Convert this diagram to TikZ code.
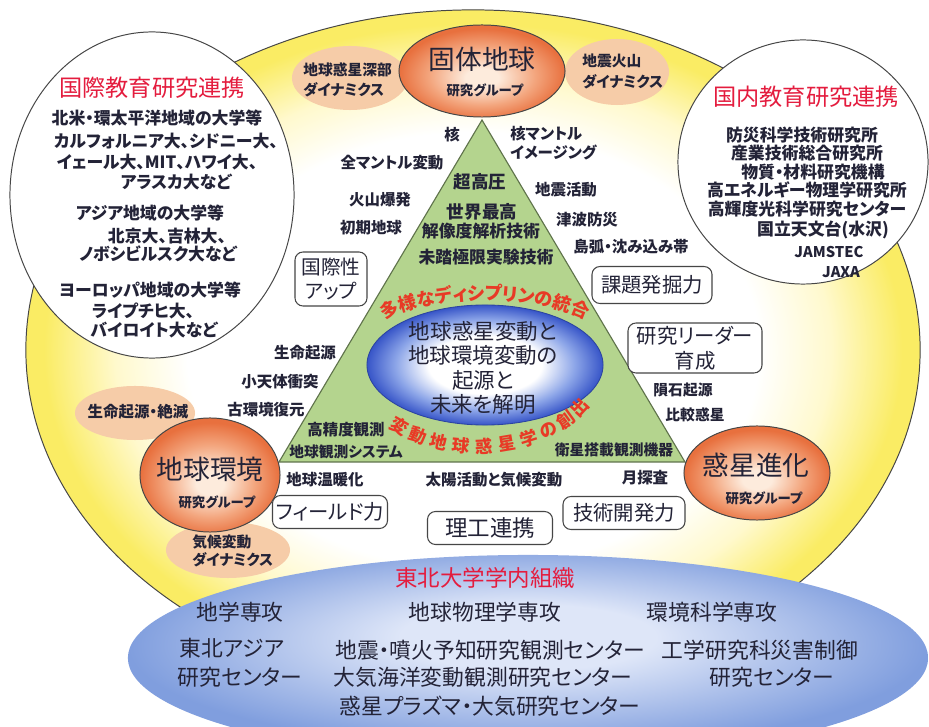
\documentclass[tikz,border=0pt]{standalone}
\usepackage{fontspec}
\setmainfont{Noto Sans CJK JP}[RawFeature=+palt]
\usetikzlibrary{shapes.geometric,decorations.text}
\definecolor{txt}{RGB}{35,35,55}
\definecolor{rimY}{RGB}{250,236,100}
\definecolor{paleY}{RGB}{255,249,205}
\definecolor{paleO}{RGB}{246,204,168}
\definecolor{orE}{RGB}{232,112,62}
\definecolor{orM}{RGB}{243,165,125}
\definecolor{orW}{RGB}{253,235,220}
\definecolor{triG}{RGB}{180,212,142}
\definecolor{triL}{RGB}{95,115,75}
\definecolor{bluE}{RGB}{55,85,200}
\definecolor{bluM}{RGB}{140,165,232}
\definecolor{botE}{RGB}{128,158,222}
\definecolor{botW}{RGB}{222,230,248}
\definecolor{headR}{RGB}{228,28,62}
\definecolor{arcR}{RGB}{232,58,38}
\definecolor{edge}{RGB}{70,70,70}
\newcommand{\fz}[1]{\fontsize{#1}{#1}\selectfont}
\newcommand{\fzl}[2]{\fontsize{#1}{#2}\selectfont}
\pgfdeclareradialshading{yellowrim}{\pgfpoint{0bp}{0bp}}{color(0bp)=(white); color(16bp)=(white); color(20bp)=(paleY); color(24bp)=(rimY); color(50bp)=(rimY)}
\pgfdeclareradialshading{orangeball}{\pgfpoint{0bp}{-4bp}}{color(0bp)=(orW); color(5bp)=(orW); color(16bp)=(orM); color(25bp)=(orE); color(50bp)=(orE)}
\pgfdeclareradialshading{blueeye}{\pgfpoint{0bp}{0bp}}{color(0bp)=(white); color(12bp)=(white); color(19bp)=(bluM); color(25bp)=(bluE); color(50bp)=(bluE)}
\pgfdeclareradialshading{bottomblue}{\pgfpoint{0bp}{6bp}}{color(0bp)=(botW); color(8bp)=(botW); color(25bp)=(botE); color(50bp)=(botE)}
\tikzset{
  ell/.style 2 args={ellipse, inner sep=0pt, minimum width=#1*0.05cm, minimum height=#2*0.05cm},
  pale/.style={fill=paleO, draw=none},
  ball/.style={shade, shading=orangeball, draw=edge, line width=0.7pt},
  rbox/.style={draw=edge, line width=0.75pt, fill=white, rounded corners=0.2cm, inner sep=0pt, align=center, text=txt},
  s10/.style={text=txt, inner sep=0pt, align=center, font=\bfseries\fz{10.5}},
  s11/.style={text=txt, inner sep=0pt, align=center, font=\bfseries\fz{11}},
  s12/.style={text=txt, inner sep=0pt, align=center, font=\bfseries\fz{12}},
  big/.style={text=txt, inner sep=0pt, align=center, font=\fz{19}},
  grp/.style={text=txt, inner sep=0pt, align=center, font=\bfseries\fz{9.5}},
  head/.style={text=headR, inner sep=0pt, align=center, font=\fz{16.5}},
  bot/.style={text=txt, inner sep=0pt, align=center, font=\fz{15.5}},
  arcch/.style={text=arcR, inner sep=0pt, font=\bfseries\fz{12.5}}
}
\begin{document}
\begin{tikzpicture}[x=0.025cm, y=0.025cm]
\useasboundingbox (0,0) rectangle (929,-727);
\fill[white] (0,0) rectangle (929,-727);
\clip (0,0) rectangle (929,-727);

% large yellow ellipse
\node[ell={447}{340}, shade, shading=yellowrim, draw=edge, line width=0.7pt] (yel) at (473,-350) {};
% white circles
\node[ell={142}{163}, fill=white, draw=edge, line width=0.7pt] (intl) at (152,-195) {};
\node[ell={125}{122}, fill=white, draw=edge, line width=0.7pt] (dom) at (803,-162) {};

% pale ellipses
\node[ell={58}{32}, pale] (pdeep) at (350,-78) {};
\node[ell={52}{33}, pale] (pvolc) at (617,-72) {};
\node[ell={60}{27}, pale] (plife) at (135,-413) {};
\node[ell={62}{28}, pale] (pclim) at (228,-550) {};

% triangle
\coordinate (tA) at (482,-120);
\coordinate (tB) at (279,-462);
\coordinate (tC) at (685,-462);
\draw[fill=triG, draw=triL, line width=0.8pt] (tA) -- (tB) -- (tC) -- cycle;

% group balls
\node[ell={83}{46}, ball] (solid) at (482,-71) {};
\node[ell={70}{57}, ball] (env) at (210,-475) {};
\node[ell={73}{47}, ball] (plan) at (757,-473) {};

% centre ellipse
\node[ell={118}{60}, shade, shading=blueeye, draw=bluE!80!black, line width=0.6pt] (core) at (485,-365) {};

% boxes
\node[rbox, minimum width=1.8cm, minimum height=1.35cm, font=\fzl{14}{17}] (b1) at (331,-279) {国際性\\アップ};
\node[rbox, minimum width=3.0cm, minimum height=0.925cm, font=\fz{14.5}] (b2) at (652,-285) {課題発掘力};
\node[rbox, minimum width=3.35cm, minimum height=1.25cm, font=\fzl{14.5}{17.5}] (b3) at (695,-348) {研究リーダー\\育成};
\node[rbox, minimum width=2.875cm, minimum height=0.825cm, font=\fz{14.5}] (b4) at (330,-512) {フィールド力};
\node[rbox, minimum width=3.125cm, minimum height=0.825cm, font=\fz{16}] (b5) at (490,-528) {理工連携};
\node[rbox, minimum width=3.05cm, minimum height=0.825cm, font=\fz{14.5}] (b6) at (624,-513) {技術開発力};

% bottom ellipse
\node[ell={400}{103}, shade, shading=bottomblue] (tohoku) at (528,-658) {};

% left circle texts
\node[head] (intlH) at (152,-88) {国際教育研究連携};
\node[s12] (i1) at (157,-118) {北米・環太平洋地域の大学等};
\node[s12] (i2) at (166,-141) {カルフォルニア大、シドニー大、};
\node[s12] (i3) at (157,-162) {イェール大、MIT、ハワイ大、};
\node[s12] (i4) at (176,-182) {アラスカ大など};
\node[s12] (i5) at (150,-213) {アジア地域の大学等};
\node[s12] (i6) at (167,-236) {北京大、吉林大、};
\node[s12] (i7) at (158,-254) {ノボシビルスク大など};
\node[s12] (i8) at (150,-290) {ヨーロッパ地域の大学等};
\node[s12] (i9) at (143,-311) {ライプチヒ大、};
\node[s12] (i10) at (154,-330) {バイロイト大など};

% right circle texts
\node[head] (domH) at (806,-97) {国内教育研究連携};
\node[s12] (d1) at (802,-135) {防災科学技術研究所};
\node[s12] (d2) at (807,-153) {産業技術総合研究所};
\node[s12] (d3) at (813,-172) {物質・材料研究機構};
\node[s12] (d4) at (807,-190) {高エネルギー物理学研究所};
\node[s12] (d5) at (807,-209) {高輝度光科学研究センター};
\node[s12] (d6) at (823,-230) {国立天文台(水沢)};
\node[s10] (d7) at (829,-252) {JAMSTEC};
\node[s10] (d8) at (841,-272) {JAXA};

% group labels
\node[big] (solidT) at (482,-59) {固体地球};
\node[grp] (solidG) at (485,-90) {研究グループ};
\node[big] (envT) at (210,-469) {地球環境};
\node[grp] (envG) at (217,-502) {研究グループ};
\node[big] (planT) at (756,-465) {惑星進化};
\node[grp] (planG) at (764,-498) {研究グループ};

% pale labels
\node[s10, align=left, anchor=west, font=\bfseries\fzl{10.5}{14.2}] (deepT) at (303,-80) {地球惑星深部\\ダイナミクス};
\node[s10, align=left, anchor=west, font=\bfseries\fzl{10.5}{15}] (volcT) at (582,-71) {地震火山\\ダイナミクス};
\node[s11] (lifeT) at (138,-412) {生命起源・絶滅};
\node[s10, align=left, anchor=west, font=\bfseries\fzl{10.5}{12.8}] (climT) at (192,-551) {気候変動\\ダイナミクス};

% labels around triangle
\node[s11] (k1) at (452,-135) {核};
\node[s11, align=left, anchor=west, font=\bfseries\fzl{11}{13.5}] (k2) at (510,-143) {核マントル\\イメージング};
\node[s11] (k3) at (392,-163) {全マントル変動};
\node[s11] (k4) at (380,-200) {火山爆発};
\node[s11] (k5) at (371,-228) {初期地球};
\node[s11] (k6) at (566,-190) {地震活動};
\node[s11] (k7) at (587,-220) {津波防災};
\node[s11] (k8) at (631,-247) {島弧・沈み込み帯};
\node[s12, font=\bfseries\fz{12.5}] (k9) at (480,-182) {超高圧};
\node[s12, font=\bfseries\fz{12.5}] (k10) at (482,-212) {世界最高};
\node[s12] (k11) at (481,-231) {解像度解析技術};
\node[s12] (k12) at (486,-257) {未踏極限実験技術};
\node[s11] (k13) at (305,-353) {生命起源};
\node[s11] (k14) at (280,-382) {小天体衝突};
\node[s11] (k15) at (266,-410) {古環境復元};
\node[s11] (k16) at (346,-430) {高精度観測};
\node[s10] (k17) at (346,-452) {地球観測システム};
\node[s10] (k18) at (614,-450) {衛星搭載観測機器};
\node[s10] (k19) at (683,-390) {隕石起源};
\node[s10] (k20) at (695,-415) {比較惑星};
\node[s11] (k21) at (325,-480) {地球温暖化};
\node[s11] (k22) at (494,-480) {太陽活動と気候変動};
\node[s11] (k23) at (645,-478) {月探査};

% centre text
\node[text=txt, inner sep=0pt, align=center, font=\fzl{15.3}{17.3}] (coreT) at (483,-368) {地球惑星変動と\\地球環境変動の\\起源と\\未来を解明};

% upper arc text
\path[decorate, decoration={text along path, text align=center, text color=arcR, text={|\bfseries\fz{13}|多様なディシプリンの統合}}] (348.8,-348.2) arc[start angle=165, end angle=15, x radius=3.525cm, y radius=1.625cm];

% lower arc text, one rotated character each (centre (478,365), rx 120, ry 81)
\foreach \ch [count=\i from 0] in {変,動,地,球,惑,星,学,の,創,出} {
  \pgfmathsetmacro{\tt}{131-\i*11}
  \pgfmathsetmacro{\px}{478+120*cos(\tt)}
  \pgfmathsetmacro{\py}{-365-81*sin(\tt)}
  \pgfmathsetmacro{\rot}{atan2(81*cos(\tt),120*sin(\tt))}
  \node[arcch, rotate=\rot] (arc\i) at (\px,\py) {\ch};
}

% bottom texts
\node[head, font=\fz{16}] (botH) at (485,-578) {東北大学学内組織};
\node[bot] (o1) at (240,-612) {地学専攻};
\node[bot] (o2) at (485,-612) {地球物理学専攻};
\node[bot] (o3) at (712,-612) {環境科学専攻};
\node[bot] (o4) at (232,-648) {東北アジア};
\node[bot] (o5) at (240,-677) {研究センター};
\node[bot] (o6) at (490,-650) {地震・噴火予知研究観測センター};
\node[bot] (o7) at (483,-677) {大気海洋変動観測研究センター};
\node[bot] (o8) at (490,-706) {惑星プラズマ・大気研究センター};
\node[bot] (o9) at (760,-650) {工学研究科災害制御};
\node[bot] (o10) at (772,-677) {研究センター};
\end{tikzpicture}
\end{document}
